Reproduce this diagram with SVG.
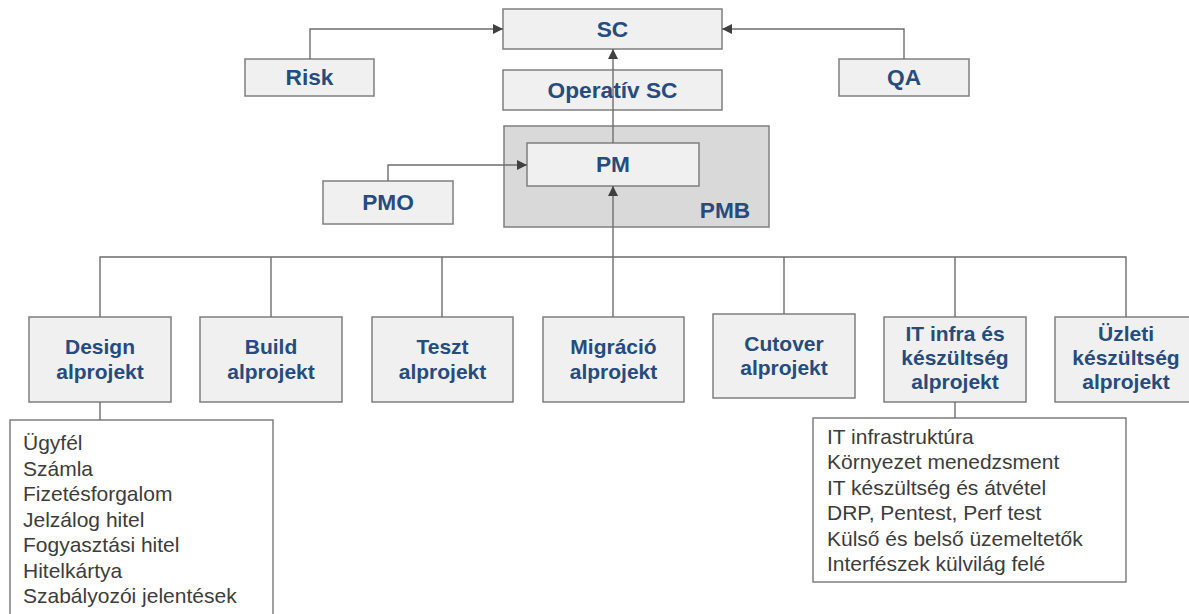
<svg xmlns="http://www.w3.org/2000/svg" width="1189" height="614" viewBox="0 0 1189 614">
<style>
.box{fill:#f0f0f0;stroke:#7f7f7f;stroke-width:1.5}
.pmb{fill:#d9d9d9;stroke:#7f7f7f;stroke-width:1.5}
.list{fill:#ffffff;stroke:#7f7f7f;stroke-width:1.5}
.t{font-family:"Liberation Sans",Arial,sans-serif;font-weight:bold;fill:#264b7f;text-anchor:middle}
.t22{font-size:22.7px}
.t21{font-size:21px}
.li{font-family:"Liberation Sans",Arial,sans-serif;font-size:21px;fill:#3c3c3c}
.c{fill:none;stroke:#6e6e6e;stroke-width:1.4}
</style>
<defs>
<marker id="arr" markerUnits="userSpaceOnUse" markerWidth="10" markerHeight="10" refX="10" refY="5" orient="auto">
<path d="M0,0 L10,5 L0,10 z" fill="#404040"/>
</marker>
</defs>
<rect width="1189" height="614" fill="#ffffff"/>
<g id="sc"><rect class="box" x="503" y="9" width="219" height="40"/><text class="t t22" x="612.5" y="37">SC</text></g>
<g id="risk"><rect class="box" x="245" y="59" width="129" height="37"/><text class="t t22" x="309.5" y="85">Risk</text></g>
<g id="qa"><rect class="box" x="839" y="59" width="130" height="37"/><text class="t t22" x="904" y="85">QA</text></g>
<g id="operativ-sc"><rect class="box" x="503" y="70" width="219" height="40"/><text class="t t22" x="612.5" y="98">Operatív SC</text></g>
<g id="pmb"><rect class="pmb" x="504" y="126" width="265" height="101"/><text class="t t22" x="725" y="218">PMB</text></g>
<g id="pm"><rect class="box" x="527" y="143" width="172" height="43"/><text class="t t22" x="613" y="172">PM</text></g>
<g id="pmo"><rect class="box" x="323" y="181" width="130" height="43"/><text class="t t22" x="388" y="210">PMO</text></g>
<g id="design"><rect class="box" x="29" y="317" width="142" height="85"/><text class="t t21" x="100" y="354">Design</text><text class="t t21" x="100" y="379">alprojekt</text></g>
<g id="build"><rect class="box" x="200" y="317" width="142" height="85"/><text class="t t21" x="271" y="354">Build</text><text class="t t21" x="271" y="379">alprojekt</text></g>
<g id="teszt"><rect class="box" x="372" y="317" width="141" height="85"/><text class="t t21" x="442.5" y="354">Teszt</text><text class="t t21" x="442.5" y="379">alprojekt</text></g>
<g id="migracio"><rect class="box" x="543" y="317" width="141" height="85"/><text class="t t21" x="613.5" y="354">Migráció</text><text class="t t21" x="613.5" y="379">alprojekt</text></g>
<g id="cutover"><rect class="box" x="713" y="314" width="142" height="84"/><text class="t t21" x="784" y="351">Cutover</text><text class="t t21" x="784" y="375">alprojekt</text></g>
<g id="itinfra"><rect class="box" x="884" y="317" width="142" height="85"/><text class="t t21" x="955" y="341">IT infra és</text><text class="t t21" x="955" y="365">készültség</text><text class="t t21" x="955" y="389">alprojekt</text></g>
<g id="uzleti"><rect class="box" x="1055" y="317" width="142" height="85"/><text class="t t21" x="1126" y="341">Üzleti</text><text class="t t21" x="1126" y="365">készültség</text><text class="t t21" x="1126" y="389">alprojekt</text></g>
<g id="design-list"><rect class="list" x="10" y="420" width="263" height="210"/>
<text class="li" x="23" y="450">Ügyfél</text>
<text class="li" x="23" y="475.5">Számla</text>
<text class="li" x="23" y="501">Fizetésforgalom</text>
<text class="li" x="23" y="526.5">Jelzálog hitel</text>
<text class="li" x="23" y="552">Fogyasztási hitel</text>
<text class="li" x="23" y="577.5">Hitelkártya</text>
<text class="li" x="23" y="603">Szabályozói jelentések</text>
</g>
<g id="it-list"><rect class="list" x="813" y="418" width="313" height="164"/>
<text class="li" x="827" y="444">IT infrastruktúra</text>
<text class="li" x="827" y="469.4">Környezet menedzsment</text>
<text class="li" x="827" y="494.8">IT készültség és átvétel</text>
<text class="li" x="827" y="520.2">DRP, Pentest, Perf test</text>
<text class="li" x="827" y="545.6">Külső és belső üzemeltetők</text>
<text class="li" x="827" y="571">Interfészek külvilág felé</text>
</g>
<g id="connectors">
<polyline class="c" points="310,59 310,29 503,29" marker-end="url(#arr)"/>
<polyline class="c" points="904,59 904,29 722,29" marker-end="url(#arr)"/>
<line class="c" x1="613" y1="143" x2="613" y2="49" marker-end="url(#arr)"/>
<polyline class="c" points="388,181 388,165 527,165" marker-end="url(#arr)"/>
<line class="c" x1="613" y1="317" x2="613" y2="186" marker-end="url(#arr)"/>
<polyline class="c" points="100,317 100,257 1126,257 1126,317"/>
<line class="c" x1="271" y1="257" x2="271" y2="317"/>
<line class="c" x1="442" y1="257" x2="442" y2="317"/>
<line class="c" x1="784" y1="257" x2="784" y2="314"/>
<line class="c" x1="955" y1="257" x2="955" y2="317"/>
<line class="c" x1="100" y1="402" x2="100" y2="420"/>
<line class="c" x1="955" y1="402" x2="955" y2="418"/>
</g>
</svg>
